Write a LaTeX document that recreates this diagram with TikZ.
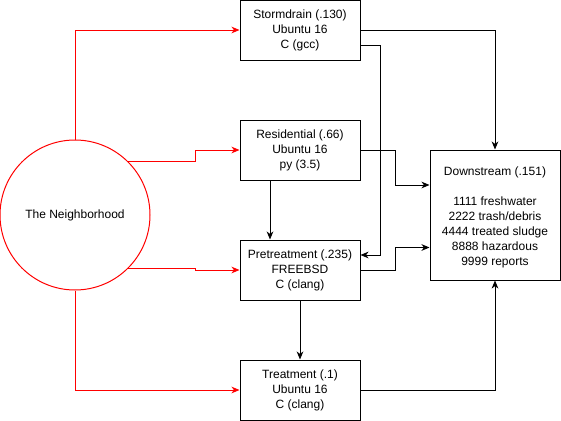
\documentclass[tikz,border=0pt]{standalone}
\usepackage{fontspec}
\setmainfont{Liberation Sans}
\usetikzlibrary{arrows.meta,calc}
\begin{document}
\begin{tikzpicture}[x=0.75pt,y=-0.75pt,
  every node/.style={font=\fontsize{9}{11.25}\selectfont, align=center, inner sep=0pt},
  box/.style={draw, line width=0.75pt, minimum width=90pt, minimum height=45pt},
  conn/.style={line width=0.75pt, -{Stealth[length=6pt,width=5pt,inset=1.8pt]}},
  redconn/.style={conn, red}]
\useasboundingbox (0,0) rectangle (561,421);
\node[draw=red, line width=0.75pt, circle, minimum size=112.5pt] (nb) at (75,215) {The Neighborhood};
\node[box] (sd) at (300,30) {Stormdrain (.130)\\Ubuntu 16\\C (gcc)};
\node[box] (rs) at (300,150) {Residential (.66)\\Ubuntu 16\\py (3.5)};
\node[box] (pt) at (300,270) {Pretreatment (.235)\\FREEBSD\\C (clang)};
\node[box] (tr) at (300,390) {Treatment (.1)\\Ubuntu 16\\C (clang)};
\node[draw, line width=0.75pt, minimum width=97.5pt, minimum height=97.5pt] (ds) at (495,215) {};
\node at (495,172) {Downstream (.151)};
\node at (495,232) {1111 freshwater\\2222 trash/debris\\4444 treated sludge\\8888 hazardous\\9999 reports};
% red connectors
\draw[redconn] (nb.north) |- (sd.west);
\draw[redconn] (nb.45) -- ++(67,0) |- (rs.west);
\draw[redconn] (nb.-45) -- ++(67,0) |- (pt.west);
\draw[redconn] (nb.south) |- (tr.west);
% black connectors
\draw[conn] (sd.east) -| (ds.north);
\draw[conn] ([yshift=-11.25pt]sd.east) -- ++(20,0) |- ([yshift=11.25pt]pt.east);
\draw[conn] (rs.east) -- ++(35,0) |- ([yshift=22.5pt]ds.west);
\draw[conn] (pt.east) -- ++(35,0) |- ([yshift=-24.375pt]ds.west);
\draw[conn] ([xshift=-22.5pt]rs.south) -- ([xshift=-22.5pt]pt.north);
\draw[conn] (pt.south) -- (tr.north);
\draw[conn] (tr.east) -| (ds.south);
\end{tikzpicture}
\end{document}
